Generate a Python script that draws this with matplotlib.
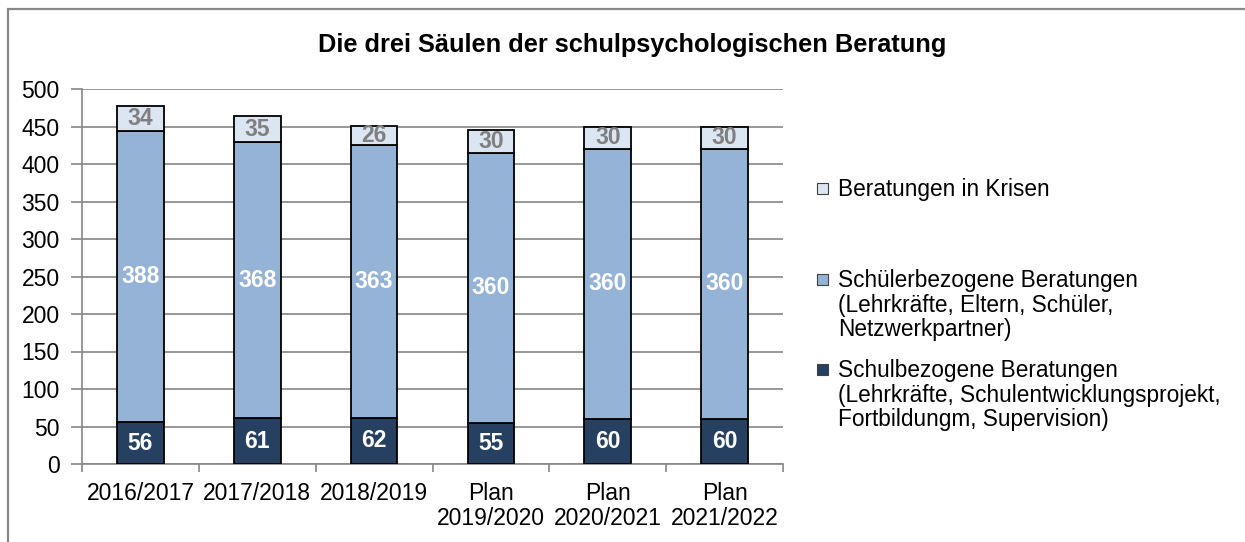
import matplotlib
matplotlib.use("Agg")
import matplotlib.pyplot as plt
from matplotlib.patches import Rectangle
import numpy as np

plt.rcParams['font.family'] = ['Liberation Sans', 'DejaVu Sans']

categories = ["2016/2017", "2017/2018", "2018/2019", "Plan\n2019/2020", "Plan\n2020/2021", "Plan\n2021/2022"]
schulbezogen = [56, 61, 62, 55, 60, 60]
schuelerbezogen = [388, 368, 363, 360, 360, 360]
krisen = [34, 35, 26, 30, 30, 30]
series_labels = [
    "Beratungen in Krisen",
    "Schülerbezogene Beratungen\n(Lehrkräfte, Eltern, Schüler,\nNetzwerkpartner)",
    "Schulbezogene Beratungen\n(Lehrkräfte, Schulentwicklungsprojekt,\nFortbildungm, Supervision)",
]
title = "Die drei Säulen der schulpsychologischen Beratung"

c_dark = "#254061"
c_mid = "#95b3d7"
c_light = "#dce6f2"
grid_c = "#868686"

W, H = 1245, 542
fig = plt.figure(figsize=(W / 100, H / 100), dpi=100)
fig.patch.set_facecolor("white")

# outer chart border
fig.patches.append(Rectangle((8 / W, -0.1), 1.2, (H - 9) / H + 0.1, transform=fig.transFigure,
                             fill=False, edgecolor="#888888", linewidth=1.6, zorder=0))

ax = fig.add_axes([82 / W, (H - 464) / H, (783 - 82) / W, (464 - 89) / H])
x = np.arange(len(categories))
bw = 0.40
kw = dict(width=bw, edgecolor="black", linewidth=1.3, zorder=3)
b1 = ax.bar(x, schulbezogen, color=c_dark, **kw)
b2 = ax.bar(x, schuelerbezogen, bottom=schulbezogen, color=c_mid, **kw)
bottom3 = np.array(schulbezogen) + np.array(schuelerbezogen)
b3 = ax.bar(x, krisen, bottom=bottom3, color=c_light, **kw)

fs_lab = 16.5
ax.bar_label(b1, labels=[str(v) for v in schulbezogen], label_type="center",
             color="white", fontsize=fs_lab, fontweight="bold", zorder=4)
ax.bar_label(b2, labels=[str(v) for v in schuelerbezogen], label_type="center",
             color="white", fontsize=fs_lab, fontweight="bold", zorder=4)
ax.bar_label(b3, labels=[str(v) for v in krisen], label_type="center",
             color="#7f7f7f", fontsize=fs_lab, fontweight="bold", zorder=4)

ax.set_xlim(-0.5, len(categories) - 0.5)
ax.set_ylim(0, 500)
ax.set_yticks(np.arange(0, 501, 50))
ax.yaxis.grid(True, color=grid_c, linewidth=1.2, zorder=0)
ax.set_axisbelow(True)
for s in ["top", "right"]:
    ax.spines[s].set_visible(False)
for s in ["left", "bottom"]:
    ax.spines[s].set_color(grid_c)
    ax.spines[s].set_linewidth(1.2)

ax.set_xticks(np.arange(-0.5, len(categories), 1.0))
ax.set_xticklabels([])
ax.set_xticks(x, minor=True)
ax.set_xticklabels(categories, minor=True, fontsize=16.5, va="top", linespacing=1.12)
ax.tick_params(axis="x", which="major", length=6, color=grid_c, width=1.2)
ax.tick_params(axis="x", which="minor", length=0, pad=13)
ax.tick_params(axis="y", length=8, color=grid_c, width=1.2, labelsize=16.5, pad=8)

fig.text(632 / W, 1 - 45 / H, title, ha="center", va="center", fontsize=18.3, fontweight="bold")

# legend (manual)
leg_colors = [c_light, c_mid, c_dark]
leg_y = [188, 279, 369]
for col, lab, yy in zip(leg_colors, series_labels, leg_y):
    fig.patches.append(Rectangle(((822 - 5.5) / W, 1 - (yy + 5.5) / H), 11 / W, 11 / H,
                                 transform=fig.transFigure, facecolor=col,
                                 edgecolor="#404040", linewidth=0.8))
    fig.text(838 / W, 1 - (yy - 10) / H, lab, ha="left", va="top", fontsize=16.3,
             linespacing=1.09, transform=fig.transFigure)

fig.savefig("out.png", dpi=100)
